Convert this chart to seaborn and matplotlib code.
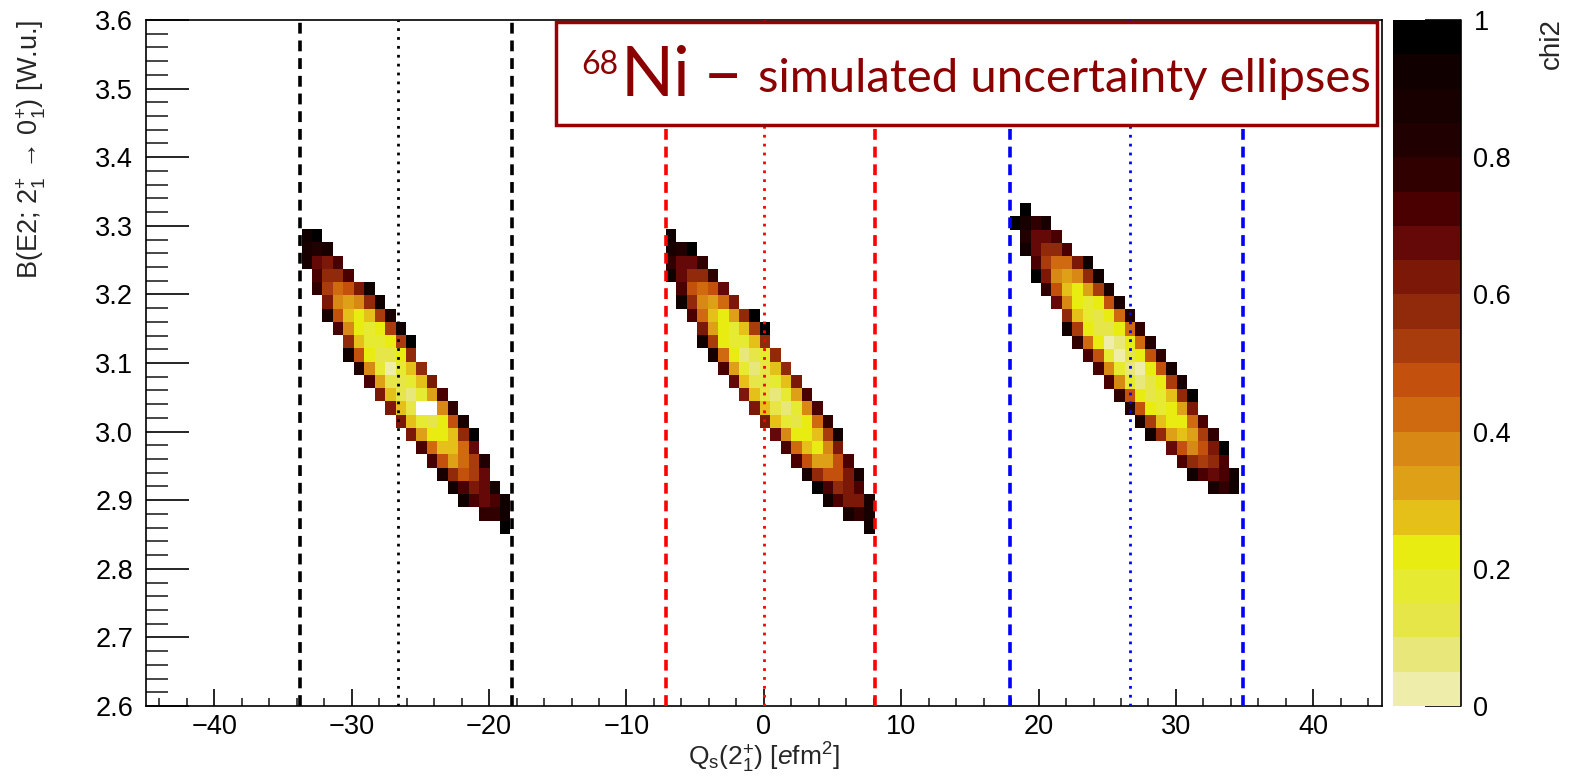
import numpy as np
import pandas as pd
import matplotlib
matplotlib.use("Agg")
import matplotlib.pyplot as plt
import seaborn as sns
from matplotlib.colors import ListedColormap
from matplotlib.patches import Rectangle

sns.set_theme(style="white")
plt.rcParams['font.family'] = ['Liberation Sans', 'DejaVu Sans']
plt.rcParams['mathtext.fontset'] = 'custom'
plt.rcParams['mathtext.rm'] = 'Liberation Sans'
plt.rcParams['mathtext.it'] = 'Liberation Sans:italic'
plt.rcParams['mathtext.bf'] = 'Liberation Sans:bold'

# ---------------- data ----------------
# chi2 level codes: code k -> chi2 = (k + 0.5) / 20 ; 'w' -> chi2 = 0 (empty/white cell)
LEVEL_CODES = "0123456789ABCDEFGHIJ"

BIN_W = 0.76     # Qs bin width [e fm^2]
BIN_H = 0.0193   # B(E2) bin height [W.u.]

# ellipse 1 (black lines)
E1_QLEFT = -33.65
E1_BTOP = 3.295
E1_START = [0, 0, 0, 1, 1, 2, 2, 3, 4, 4, 5, 6, 7, 8, 9, 10, 11, 12, 13, 14, 15, 17, 19]
E1_ROWS = ["IJ", "HGH", "HDCE", "EBBE", "FA89CI", "C767BI", "H9545AH", "E7434AI",
           "B5334AJ", "I94224B", "G73035B", "E62235C", "C52136E", "C52ww7F",
           "C53249H", "C6445BJ", "E8558D", "E968AG", "HB9AD", "IECDH", "IEDEI",
           "FFI", "J"]

# ellipse 2 (red lines)
E2_QLEFT = -7.13
E2_BTOP = 3.295
E2_START = [0, 0, 0, 0, 1, 1, 2, 3, 3, 4, 5, 6, 7, 8, 9, 10, 11, 12, 13, 14, 15, 17, 19]
E2_ROWS = ["I", "HGJ", "FDDF", "IDBBF", "E989D", "IB768C", "E8546BJ", "C6435AJ",
           "IA4335B", "H84123B", "E63125B", "D52235C", "C52136E", "C52137E",
           "C53248F", "D7445AI", "E8547C", "E9669E", "HB99CH", "JEBCE", "IECCH",
           "HFH", "I"]

# ellipse 3 (blue lines)
E3_QLEFT = 17.9
E3_BTOP = 3.333
E3_START = [1, 0, 1, 1, 2, 2, 3, 4, 5, 5, 6, 7, 8, 9, 10, 11, 12, 13, 15, 16, 17, 19]
E3_ROWS = ["J", "JHFH", "GDDE", "IDBBE", "EA88CI", "JC767BI", "F9546AH", "D74349H",
           "B53248G", "IA42248F", "F840148G", "E930249F", "E731049H", "E73124AH",
           "F94235BJ", "G94346C", "HA5448E", "IB656AF", "D979CJ", "EBABE", "IEDEI",
           "HFI"]

# reference lines (Qs values)
BLACK_DASHED = [-33.75, -18.35]
BLACK_DOTTED = [-26.6]
RED_DASHED = [-7.15, 8.1]
RED_DOTTED = [0.0]
BLUE_DASHED = [17.95, 34.85]
BLUE_DOTTED = [26.65]

# colour palette of the z axis (20 levels, 0 -> 1)
PALETTE = ["#eeeeaa", "#e8e87a", "#e6e648", "#e6ea30", "#e8ec10",
           "#e4c018", "#dea016", "#d88814", "#d06a10", "#c4500e",
           "#a83c0c", "#902a0a", "#7c1808", "#640808", "#4a0000",
           "#300000", "#200000", "#180000", "#100000", "#000000"]

X_TICKS = [-40, -30, -20, -10, 0, 10, 20, 30, 40]
Y_TICKS = [2.6, 2.7, 2.8, 2.9, 3.0, 3.1, 3.2, 3.3, 3.4, 3.5, 3.6]
Z_TICKS = [0, 0.2, 0.4, 0.6, 0.8, 1.0]
Z_TICKLABELS = ["0", "0.2", "0.4", "0.6", "0.8", "1"]


def build(qleft, btop, starts, rows):
    recs = []
    for j, (s, r) in enumerate(zip(starts, rows)):
        for i, ch in enumerate(r):
            val = 0.0 if ch == 'w' else (LEVEL_CODES.index(ch) + 0.5) / 20.0
            recs.append((qleft + (s + i + 0.5) * BIN_W, btop - (j + 0.5) * BIN_H, val))
    df = pd.DataFrame(recs, columns=["Qs", "BE2", "chi2"])
    ncol = max(s + len(r) for s, r in zip(starts, rows))
    xe = qleft + BIN_W * np.arange(ncol + 1)
    ye = btop - BIN_H * np.arange(len(rows) + 1)[::-1]
    return df, xe, ye


ELLIPSES = [
    build(E1_QLEFT, E1_BTOP, E1_START, E1_ROWS),
    build(E2_QLEFT, E2_BTOP, E2_START, E2_ROWS),
    build(E3_QLEFT, E3_BTOP, E3_START, E3_ROWS),
]

# ---------------- figure ----------------
W, H = 1574, 780
fig = plt.figure(figsize=(W / 100, H / 100), dpi=100)
fig.patch.set_facecolor("white")


def fx(px):
    return px / W


def fy(py):
    return 1 - py / H


ax = fig.add_axes([fx(145.7), fy(706), (1382 - 145.7) / W, 686 / H])
cax = fig.add_axes([fx(1393), fy(706), 68 / W, 686 / H])

cmap = ListedColormap(PALETTE)

for k, (df, xe, ye) in enumerate(ELLIPSES):
    sns.histplot(data=df, x="Qs", y="BE2", weights="chi2", bins=(xe, ye),
                 cmap=cmap, vmin=0, vmax=1, thresh=0,
                 cbar=(k == 0), cbar_ax=cax if k == 0 else None, ax=ax)

DASHED = dict(lw=2.6, dashes=(3.0, 1.9), zorder=3)
DOTTED = dict(lw=2.0, dashes=(1.0, 2.2), zorder=3)
for q in BLACK_DASHED:
    ax.axvline(q, color="black", **DASHED)
for q in BLACK_DOTTED:
    ax.axvline(q, color="black", **DOTTED)
for q in RED_DASHED:
    ax.axvline(q, color="#ff0000", **DASHED)
for q in RED_DOTTED:
    ax.axvline(q, color="#ff0000", **DOTTED)
for q in BLUE_DASHED:
    ax.axvline(q, color="#0000ff", **DASHED)
for q in BLUE_DOTTED:
    ax.axvline(q, color="#0000ff", **DOTTED)

ax.set_xlim(-45, 45)
ax.set_ylim(2.6, 3.6)
ax.set_xticks(X_TICKS)
ax.set_xticks(np.arange(-44, 45, 2), minor=True)
ax.set_yticks(Y_TICKS)
ax.set_yticklabels([f"{v:.1f}" for v in Y_TICKS])
ax.set_yticks(np.arange(2.6, 3.6, 0.02), minor=True)
ax.tick_params(axis='x', which='major', direction='in', length=12, width=1.2,
               labelsize=19.5, pad=6, colors='black', bottom=True)
ax.tick_params(axis='x', which='minor', direction='in', length=6, width=1.2, bottom=True)
ax.tick_params(axis='y', which='major', direction='in', length=31, width=1.2,
               labelsize=19.5, pad=9, colors='black', left=True)
ax.tick_params(axis='y', which='minor', direction='in', length=16, width=1.2, left=True)
for sp in ax.spines.values():
    sp.set_visible(True)
    sp.set_color("black")
    sp.set_linewidth(1.2)

ax.set_xlabel(r"Q$_{\mathrm{s}}$(2$^{+}_{1}$) [$e$fm$^{2}$]", fontsize=19, labelpad=0)
ax.set_ylabel("B(E2; 2$^{+}_{1}$ \u2192 0$^{+}_{1}$) [W.u.]", fontsize=19.5, loc='top')
ax.yaxis.set_label_coords(-0.079, 1.0)

cb = ax.collections[0].colorbar
cb.set_ticks(Z_TICKS)
cb.set_ticklabels(Z_TICKLABELS)
cb.outline.set_visible(False)
cax.minorticks_off()
cax.tick_params(direction='in', length=26, width=1.2, labelsize=19.5, pad=9,
                right=True, colors='black')
cax.plot([1, 1], [0, 1], transform=cax.transAxes, color="black", lw=1.2, clip_on=False)
fig.text(fx(1552), fy(18), "chi2", rotation=90, ha="center", va="top", fontsize=20)

# title box
fig.add_artist(Rectangle((fx(556), fy(125)), fx(1377) - fx(556), fy(22) - fy(125),
                         transform=fig.transFigure, facecolor="white",
                         edgecolor="#990000", lw=2.5, zorder=5))
title_kw = dict(color="#8b0000", family=["Lato", "DejaVu Sans"], fontweight="normal",
                zorder=6, va="baseline", ha="left")
fig.text(fx(581), fy(74), "68", fontsize=23, **title_kw)
fig.text(fx(621), fy(96), "Ni", fontsize=50, **title_kw)
fig.text(fx(703), fy(96), "\u2013", fontsize=50, **title_kw)
fig.text(fx(758), fy(92), "simulated uncertainty ellipses", fontsize=34, **title_kw)

fig.savefig("out.png", dpi=100, facecolor="white")
